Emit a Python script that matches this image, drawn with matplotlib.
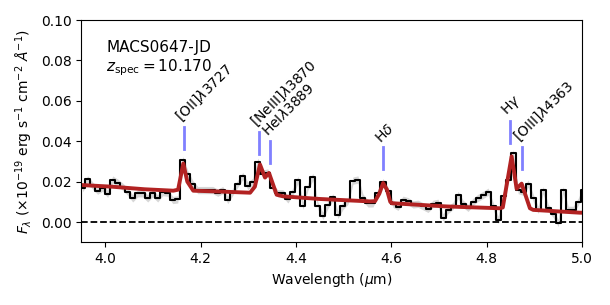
import numpy as np
import matplotlib
matplotlib.use("Agg")
import matplotlib.pyplot as plt

# Espectro observado (fluxo por bin, ~0.0105 um por bin a partir de 3.9475 um)
bin_start = 3.9475
bin_width = 0.0105
flux = [0.0167, 0.0211, 0.0180, 0.0155, 0.0170, 0.0139, 0.0210, 0.0195, 0.0175, 0.0150,
        0.0117, 0.0142, 0.0142, 0.0117, 0.0142, 0.0117, 0.0148, 0.0145, 0.0109, 0.0112,
        0.0307, 0.0238, 0.0188, 0.0158, 0.0158, 0.0158, 0.0158, 0.0145, 0.0158, 0.0109,
        0.0150, 0.0190, 0.0228, 0.0178, 0.0200, 0.0298, 0.0240, 0.0245, 0.0167, 0.0142,
        0.0142, 0.0112, 0.0150, 0.0208, 0.0080, 0.0175, 0.0224, 0.0080, 0.0030, 0.0085,
        0.0122, 0.0035, 0.0080, 0.0105, 0.0205, 0.0210, 0.0120, 0.0092, 0.0092, 0.0145,
        0.0197, 0.0155, 0.0090, 0.0075, 0.0110, 0.0103, 0.0087, 0.0090, 0.0078, 0.0065,
        0.0090, 0.0095, 0.0022, 0.0060, 0.0080, 0.0134, 0.0090, 0.0070, 0.0100, 0.0120,
        0.0134, 0.0150, 0.0080, 0.0010, 0.0130, 0.0210, 0.0340, 0.0158, 0.0150, 0.0190,
        0.0120, 0.0060, 0.0158, 0.0070, 0.0040, -0.0005, 0.0158, 0.0060, 0.0060, 0.0100,
        0.0160]
flux_err = 0.0018

# Modelo (linha vermelha)
model_wave = [3.950, 4.013, 4.083, 4.143, 4.153, 4.1639, 4.1723, 4.1848, 4.250, 4.304,
              4.314, 4.3247, 4.3352, 4.3436, 4.3597, 4.3736, 4.450, 4.555, 4.566, 4.575,
              4.583, 4.591, 4.598, 4.601, 4.716, 4.828, 4.834, 4.8525, 4.863, 4.8735,
              4.8909, 4.8978, 4.9957, 5.0]
model_flux = [0.0183, 0.0175, 0.0162, 0.0155, 0.0160, 0.0290, 0.0200, 0.0155, 0.0150, 0.0145,
              0.0175, 0.0285, 0.0220, 0.0243, 0.0135, 0.0127, 0.0114, 0.0102, 0.0103, 0.0140,
              0.0193, 0.0160, 0.0100, 0.0093, 0.0077, 0.0068, 0.0072, 0.0325, 0.0165, 0.0190,
              0.0068, 0.0060, 0.0046, 0.0046]

# Linhas de emissão
z_spec = 10.17
line_names = [r"[OII]$\lambda$3727", r"[NeIII]$\lambda$3870", r"HeI$\lambda$3889",
              r"H$\delta$", r"H$\gamma$", r"[OIII]$\lambda$4363"]
line_rest = [3728.5, 3869.9, 3889.7, 4102.9, 4341.7, 4364.4]
line_top = [0.0472, 0.0447, 0.0403, 0.0371, 0.0501, 0.0373]
marker_len = 0.011

wave = bin_start + bin_width * (np.arange(len(flux)) + 0.5)
flux = np.array(flux)

fig = plt.figure(figsize=(6.1, 3.05), dpi=100)
ax = fig.add_axes([0.1333, 0.2059, 0.8207, 0.7285])

ax.fill_between(wave, flux - flux_err, flux + flux_err, color="#bdbdbd", alpha=0.6, lw=0)
ax.plot(wave, flux, drawstyle="steps-mid", color="black", lw=1.5)
ax.plot(model_wave, model_flux, color="#b22222", lw=2.8)
ax.axhline(0, color="black", ls="--", lw=1.3)

for name, rest, top in zip(line_names, line_rest, line_top):
    lam = rest * (1 + z_spec) / 1e4
    ax.plot([lam, lam], [top - marker_len, top], color="#8080ff", lw=2)
    ax.text(lam, top + 0.0008, name, rotation=45, rotation_mode="anchor",
            ha="left", va="bottom", fontsize=10)

ax.text(0.05, 0.855, "MACS0647-JD", transform=ax.transAxes, fontsize=11)
ax.text(0.05, 0.77, r"$z_{\rm spec} = 10.170$", transform=ax.transAxes, fontsize=11)

ax.set_xlim(3.95, 5.0)
ax.set_ylim(-0.01, 0.10)
ax.set_xticks([4.0, 4.2, 4.4, 4.6, 4.8, 5.0])
ax.set_yticks([0.0, 0.02, 0.04, 0.06, 0.08, 0.10])
ax.yaxis.set_major_formatter(matplotlib.ticker.FormatStrFormatter("%.2f"))
ax.set_xlabel(r"Wavelength ($\mu$m)")
ax.set_ylabel(r"$F_\lambda$ ($\times10^{-19}$ erg s$^{-1}$ cm$^{-2}$ $\AA^{-1}$)")

fig.savefig("out.png", dpi=100)
